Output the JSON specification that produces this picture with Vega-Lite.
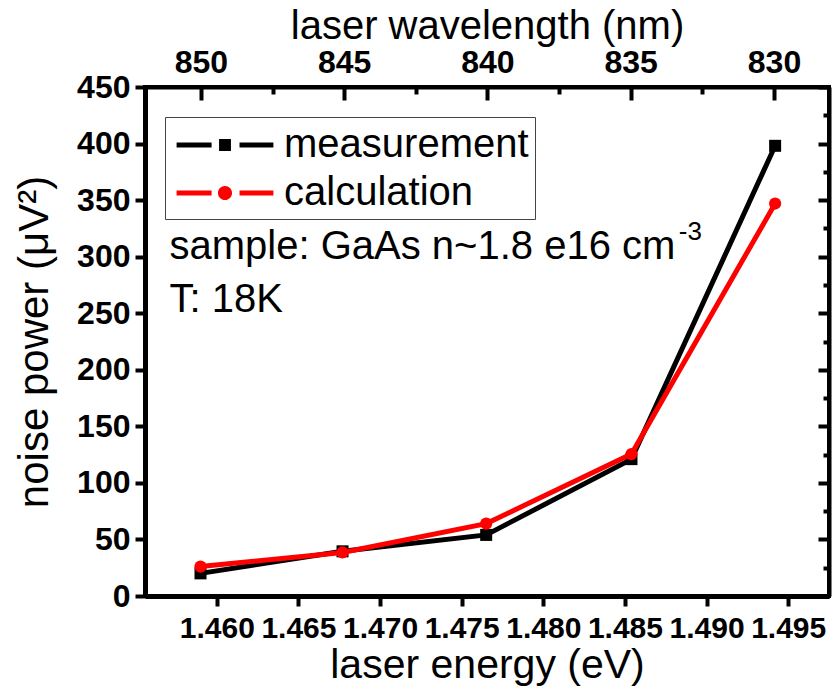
{
  "$schema": "https://vega.github.io/schema/vega-lite/v6.json",
  "width": 684,
  "height": 509,
  "autosize": {"type": "none"},
  "padding": {"left": 145, "top": 87, "right": 5, "bottom": 94},
  "background": "white",
  "config": {
    "view": {"stroke": "black", "strokeWidth": 4},
    "font": "Liberation Sans",
    "axis": {"grid": false, "labelFlush": false, "labelOverlap": false, "labelColor": "black", "tickColor": "black", "domainColor": "black", "titleColor": "black", "labelFont": "Liberation Sans", "titleFont": "Liberation Sans"}
  },
  "data": {
    "values": [
      {"series": "measurement", "wavelength": 850, "energy": 1.4590, "power": 20},
      {"series": "measurement", "wavelength": 845, "energy": 1.4677, "power": 39.5},
      {"series": "measurement", "wavelength": 840, "energy": 1.4765, "power": 54},
      {"series": "measurement", "wavelength": 835, "energy": 1.4854, "power": 121},
      {"series": "measurement", "wavelength": 830, "energy": 1.4942, "power": 398},
      {"series": "calculation", "wavelength": 850, "energy": 1.4590, "power": 26},
      {"series": "calculation", "wavelength": 845, "energy": 1.4677, "power": 38.5},
      {"series": "calculation", "wavelength": 840, "energy": 1.4765, "power": 64},
      {"series": "calculation", "wavelength": 835, "energy": 1.4854, "power": 125.5},
      {"series": "calculation", "wavelength": 830, "energy": 1.4942, "power": 347}
    ]
  },
  "layer": [
    {
      "mark": {"type": "point", "opacity": 0},
      "encoding": {
        "x": {
          "field": "wavelength", "type": "quantitative",
          "scale": {"domain": [851.95, 828.08], "nice": false, "zero": false},
          "axis": {
            "orient": "top",
            "values": [850, 847.5, 845, 842.5, 840, 837.5, 835, 832.5, 830],
            "labelExpr": "datum.value % 5 === 0 ? datum.label : ''",
            "labelFontSize": 32, "labelFontWeight": "bold", "labelPadding": 21,
            "tickSize": {"condition": {"test": "datum.value % 5 === 0", "value": -13}, "value": -7},
            "tickWidth": 4, "domainWidth": 4,
            "title": "laser wavelength (nm)", "titleFontSize": 40, "titleFontWeight": "normal", "titlePadding": -6
          }
        },
        "y": {
          "field": "power", "type": "quantitative",
          "scale": {"domain": [0, 450], "nice": false},
          "axis": {
            "orient": "right",
            "values": [0, 25, 50, 75, 100, 125, 150, 175, 200, 225, 250, 275, 300, 325, 350, 375, 400, 425, 450],
            "labels": false,
            "tickSize": {"condition": {"test": "datum.value % 50 === 0", "value": -11}, "value": -6},
            "tickWidth": 4, "domainWidth": 4, "title": null
          }
        }
      }
    },
    {
      "layer": [
        {
          "transform": [{"filter": "datum.series === 'measurement'"}],
          "mark": {"type": "line", "strokeWidth": 5},
          "encoding": {
            "x": {
              "field": "energy", "type": "quantitative",
              "scale": {"domain": [1.4556, 1.4975], "nice": false, "zero": false},
              "axis": {
                "orient": "bottom",
                "values": [1.46, 1.465, 1.47, 1.475, 1.48, 1.485, 1.49, 1.495],
                "format": ".3f",
                "labelFontSize": 30, "labelFontWeight": "bold", "labelPadding": 7,
                "tickSize": 10, "tickWidth": 4, "domainWidth": 5,
                "title": "laser energy (eV)", "titleFontSize": 41, "titleFontWeight": "normal", "titlePadding": 2
              }
            },
            "y": {
              "field": "power", "type": "quantitative",
              "scale": {"domain": [0, 450], "nice": false},
              "axis": {
                "orient": "left",
                "values": [0, 25, 50, 75, 100, 125, 150, 175, 200, 225, 250, 275, 300, 325, 350, 375, 400, 425, 450],
                "labelExpr": "datum.value % 50 === 0 ? datum.label : ''",
                "labelFontSize": 32, "labelFontWeight": "bold", "labelPadding": 5,
                "tickSize": {"condition": {"test": "datum.value % 50 === 0", "value": 10}, "value": 6},
                "tickWidth": 4, "domainWidth": 5,
                "title": "noise power (μV²)", "titleFontSize": 42, "titleFontWeight": "normal", "titlePadding": 20
              }
            },
            "color": {
              "field": "series", "type": "nominal",
              "scale": {"domain": ["measurement", "calculation"], "range": ["black", "red"]},
              "legend": {
                "orient": "none", "legendX": 20, "legendY": 30,
                "title": null,
                "strokeColor": "#444", "padding": 6,
                "labelFontSize": 40, "labelFont": "Liberation Sans", "labelColor": "black", "labelLimit": 0,
                "labelOffset": 37, "symbolOffset": 32,
                "symbolSize": 1936, "rowPadding": 6,
                "encode": {
                  "symbols": {
                    "update": {
                      "shape": {"signal": "datum.value === 'measurement' ? 'M-2.2,-0.114H-0.61V0.114H-2.2Z M-0.27,-0.27H0.27V0.27H-0.27Z M0.66,-0.114H2.2V0.114H0.66Z' : 'M-2.2,-0.114H-0.61V0.114H-2.2Z M0.32,0A0.32,0.32 0 1,1 -0.32,0A0.32,0.32 0 1,1 0.32,0Z M0.66,-0.114H2.2V0.114H0.66Z'"},
                      "fill": {"signal": "datum.value === 'measurement' ? 'black' : 'red'"},
                      "fillOpacity": {"value": 1},
                      "opacity": {"value": 1},
                      "stroke": {"value": "transparent"},
                      "strokeWidth": {"value": 0}
                    }
                  }
                }
              }
            }
          }
        },
        {
          "transform": [{"filter": "datum.series === 'measurement'"}],
          "mark": {"type": "point", "shape": "square", "filled": true, "size": 144, "opacity": 1, "color": "black"},
          "encoding": {
            "x": {"field": "energy", "type": "quantitative"},
            "y": {"field": "power", "type": "quantitative"}
          }
        },
        {
          "transform": [{"filter": "datum.series === 'calculation'"}],
          "mark": {"type": "line", "strokeWidth": 5},
          "encoding": {
            "x": {"field": "energy", "type": "quantitative"},
            "y": {"field": "power", "type": "quantitative"},
            "color": {"field": "series", "type": "nominal"}
          }
        },
        {
          "transform": [{"filter": "datum.series === 'calculation'"}],
          "mark": {"type": "point", "shape": "circle", "filled": true, "size": 150, "opacity": 1, "color": "red"},
          "encoding": {
            "x": {"field": "energy", "type": "quantitative"},
            "y": {"field": "power", "type": "quantitative"}
          }
        },
        {
          "data": {"values": [{"note": "sample: GaAs n~1.8 e16 cm"}]},
          "mark": {"type": "text", "align": "left", "baseline": "middle", "fontSize": 40, "font": "Liberation Sans", "color": "black"},
          "encoding": {
            "x": {"datum": 1.4571, "type": "quantitative"},
            "y": {"datum": 308.6, "type": "quantitative"},
            "text": {"field": "note"}
          }
        },
        {
          "data": {"values": [{"note": "-3"}]},
          "mark": {"type": "text", "align": "left", "baseline": "middle", "fontSize": 26, "font": "Liberation Sans", "color": "black"},
          "encoding": {
            "x": {"datum": 1.4883, "type": "quantitative"},
            "y": {"datum": 321.8, "type": "quantitative"},
            "text": {"field": "note"}
          }
        },
        {
          "data": {"values": [{"note": "T: 18K"}]},
          "mark": {"type": "text", "align": "left", "baseline": "middle", "fontSize": 40, "font": "Liberation Sans", "color": "black"},
          "encoding": {
            "x": {"datum": 1.4571, "type": "quantitative"},
            "y": {"datum": 261.7, "type": "quantitative"},
            "text": {"field": "note"}
          }
        }
      ]
    }
  ],
  "resolve": {
    "scale": {"x": "independent", "y": "independent"},
    "axis": {"x": "independent", "y": "independent"}
  }
}
